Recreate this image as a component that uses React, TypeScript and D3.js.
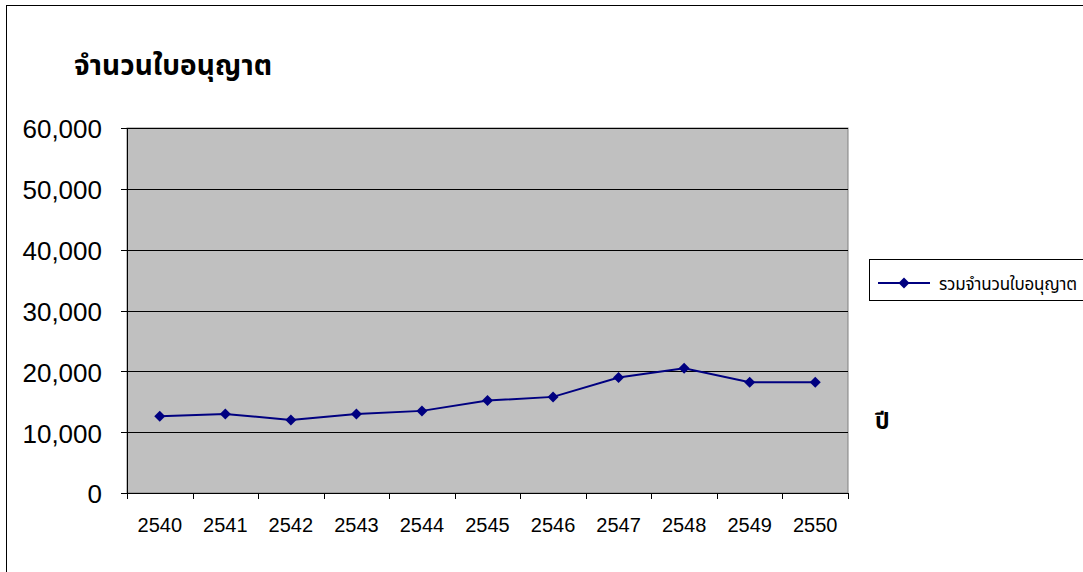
import React from "react";
import * as d3 from "d3";

const years = ["2540", "2541", "2542", "2543", "2544", "2545", "2546", "2547", "2548", "2549", "2550"];
const licenses = [12600, 13000, 12000, 13000, 13500, 15200, 15800, 19000, 20500, 18200, 18200];
const yTicks = [0, 10000, 20000, 30000, 40000, 50000, 60000];
const title = "จำนวนใบอนุญาต";
const seriesName = "รวมจำนวนใบอนุญาต";
const xTitle = "ปี";

const W = 1083;
const H = 572;
const plot = { left: 127, right: 848, top: 128, bottom: 493 };

export default function App() {
  const x = d3.scaleBand().domain(years).range([plot.left, plot.right]).padding(0);
  const y = d3.scaleLinear().domain([0, 60000]).range([plot.bottom, plot.top]);
  const line = d3
    .line<number>()
    .x((_, i) => (x(years[i]) as number) + x.bandwidth() / 2)
    .y((d) => y(d));
  const fmt = d3.format(",");
  const diamond = (cx: number, cy: number, r: number) =>
    `M${cx},${cy - r}L${cx + r},${cy}L${cx},${cy + r}L${cx - r},${cy}Z`;
  const thai = "Tahoma, 'Noto Sans Thai', 'Noto Sans', sans-serif";
  const arial = "Arial, 'Liberation Sans', sans-serif";
  const edges = years.map((yr) => x(yr) as number).concat([plot.right]);

  return (
    <svg
      width={W}
      height={H}
      style={{ position: "absolute", left: 0, top: 0, display: "block", background: "#fff" }}
    >
      {/* outer frame */}
      <rect x={6.5} y={5.5} width={W + 20} height={H + 20} fill="none" stroke="#000" strokeWidth={1} />
      {/* title */}
      <text x={74} y={75} fontFamily={thai} fontWeight="bold" fontSize={28} fill="#000" textLength={198}>
        {title}
      </text>
      {/* plot area */}
      <rect
        x={plot.left}
        y={plot.top}
        width={plot.right - plot.left}
        height={plot.bottom - plot.top}
        fill="#C0C0C0"
        stroke="#808080"
        strokeWidth={1}
      />
      {/* gridlines */}
      {yTicks.slice(1).map((t) => (
        <line
          key={"g" + t}
          x1={plot.left}
          x2={plot.right}
          y1={Math.round(y(t)) + 0.5}
          y2={Math.round(y(t)) + 0.5}
          stroke="#000"
          strokeWidth={1}
        />
      ))}
      {/* y axis */}
      <line x1={plot.left + 0.5} x2={plot.left + 0.5} y1={plot.top} y2={plot.bottom} stroke="#000" />
      {yTicks.map((t) => (
        <g key={"y" + t}>
          <line
            x1={plot.left - 6}
            x2={plot.left}
            y1={Math.round(y(t)) + 0.5}
            y2={Math.round(y(t)) + 0.5}
            stroke="#000"
          />
          <text
            x={102}
            y={y(t)}
            dy="0.4em"
            textAnchor="end"
            fontFamily={arial}
            fontSize={26}
            fill="#000"
          >
            {fmt(t)}
          </text>
        </g>
      ))}
      {/* x axis */}
      <line x1={plot.left} x2={plot.right + 1} y1={plot.bottom + 0.5} y2={plot.bottom + 0.5} stroke="#000" />
      {edges.map((e, i) => (
        <line
          key={"xt" + i}
          x1={Math.round(e) + 0.5}
          x2={Math.round(e) + 0.5}
          y1={plot.bottom}
          y2={plot.bottom + 6}
          stroke="#000"
        />
      ))}
      {years.map((yr) => (
        <text
          key={"xl" + yr}
          x={(x(yr) as number) + x.bandwidth() / 2}
          y={532}
          textAnchor="middle"
          fontFamily={arial}
          fontSize={20}
          fill="#000"
        >
          {yr}
        </text>
      ))}
      {/* series */}
      <path d={line(licenses) || ""} fill="none" stroke="#000080" strokeWidth={2} />
      {licenses.map((v, i) => (
        <path
          key={"m" + i}
          d={diamond((x(years[i]) as number) + x.bandwidth() / 2, y(v), 5.5)}
          fill="#000080"
        />
      ))}
      {/* x title */}
      <text x={875} y={429} fontFamily={thai} fontWeight="bold" fontSize={23} fill="#000">
        {xTitle}
      </text>
      {/* legend */}
      <rect x={869.5} y={259.5} width={240} height={41} fill="#fff" stroke="#000" strokeWidth={1} />
      <line x1={878} x2={930} y1={283} y2={283} stroke="#000080" strokeWidth={2} />
      <path d={diamond(904, 283, 5.5)} fill="#000080" />
      <text x={939} y={290} fontFamily={thai} fontSize={17} fill="#000" textLength={138}>
        {seriesName}
      </text>
    </svg>
  );
}
